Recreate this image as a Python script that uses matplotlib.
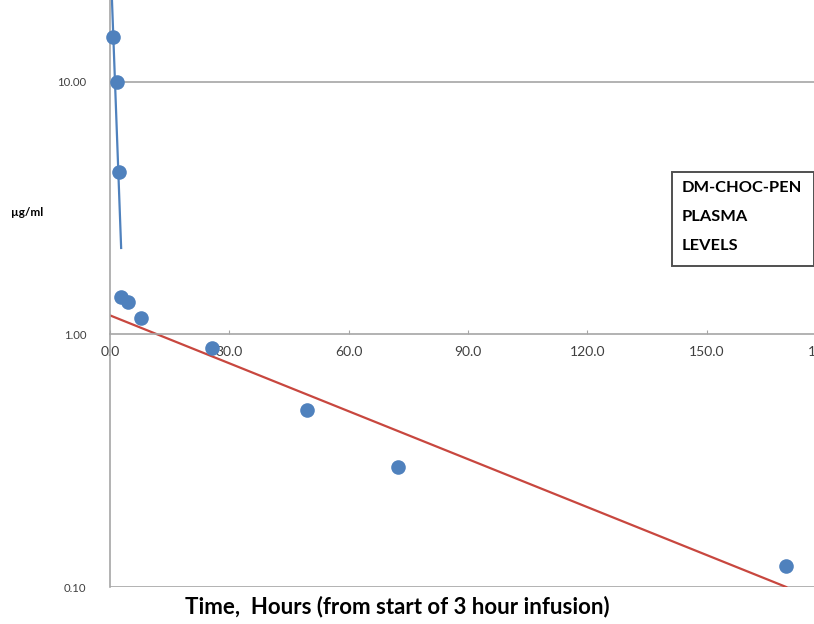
"""DM-CHOC-PEN plasma levels on a log scale, with the two fitted phases."""
import matplotlib

matplotlib.use("Agg")
import matplotlib.pyplot as plt
from matplotlib.patches import Rectangle
from matplotlib.ticker import FixedLocator, FormatStrFormatter

# measured plasma levels (hours from start of infusion, ug/ml)
hours = [0.75, 1.75, 2.25, 2.75, 4.5, 7.75, 25.75, 49.5, 72.5, 170.0]
level = [15.1, 10.0, 4.4, 1.41, 1.34, 1.16, 0.88, 0.50, 0.30, 0.121]

# fast (distribution) phase fit, drawn in blue
fast_t = [0.45, 2.8]
fast_c = [22.0, 2.2]

# slow (elimination) phase fit, drawn in red
slow_t = [0.0, 170.0]
slow_c = [1.19, 0.10]

x_ticks = [0, 30, 60, 90, 120, 150, 180]
y_ticks = [0.1, 1.0, 10.0]

BLUE = "#4F81BD"
RED = "#C8473F"
GRID = "#A6A6A6"

plt.rcParams["font.family"] = ["Lato", "DejaVu Sans"]

fig = plt.figure(figsize=(8.14, 6.24), dpi=100)
ax = fig.add_axes([110 / 814, 37 / 624, (826 - 110) / 814, 587 / 624])
ax.set_yscale("log")
ax.set_xlim(0, 180)
ax.set_ylim(0.1, 21.1)

# gridlines at the decades; the x axis itself sits on 1.00
for y in (0.1, 10.0):
    ax.axhline(y, color=GRID, linewidth=1.2, zorder=1)
ax.spines["bottom"].set_position(("data", 1.0))
for side in ("top", "right"):
    ax.spines[side].set_visible(False)
for side in ("bottom", "left"):
    ax.spines[side].set_color(GRID)
    ax.spines[side].set_linewidth(1.2)

ax.plot(slow_t, slow_c, color=RED, linewidth=1.6, zorder=2)
ax.plot(fast_t, fast_c, color=BLUE, linewidth=1.6, zorder=2)
ax.plot(hours, level, "o", color=BLUE, markersize=10.5,
        markeredgewidth=0, zorder=3, clip_on=False)

ax.xaxis.set_major_locator(FixedLocator(x_ticks))
ax.xaxis.set_major_formatter(FormatStrFormatter("%.1f"))
ax.yaxis.set_major_locator(FixedLocator(y_ticks))
ax.yaxis.set_major_formatter(FormatStrFormatter("%.2f"))
ax.yaxis.set_minor_locator(FixedLocator([]))
ax.tick_params(axis="x", direction="in", length=3, color=GRID,
               labelsize=10, labelcolor="#404040", pad=8)
ax.tick_params(axis="y", length=0, labelsize=8.2, labelcolor="#404040", pad=17)

fig.text(27 / 814, 1 - 213 / 624, "\u00b5g/ml", ha="center", va="center",
         fontsize=8.5, fontweight="bold")
fig.text(397 / 814, 1 - 607 / 624, "Time,  Hours (from start of 3 hour infusion)",
         ha="center", va="center", fontsize=16, fontweight="bold")

# label box on the right
fig.add_artist(Rectangle((672 / 814, 1 - 266 / 624), 142 / 814, 94 / 624,
                         transform=fig.transFigure, facecolor="white",
                         edgecolor="#505050", linewidth=1.4))
for i, line in enumerate(["DM-CHOC-PEN", "PLASMA", "LEVELS"]):
    fig.text(682 / 814, 1 - (188 + 29 * i) / 624, line, ha="left", va="center",
             fontsize=11.8, fontweight="bold")

fig.savefig("out.png", dpi=100)
